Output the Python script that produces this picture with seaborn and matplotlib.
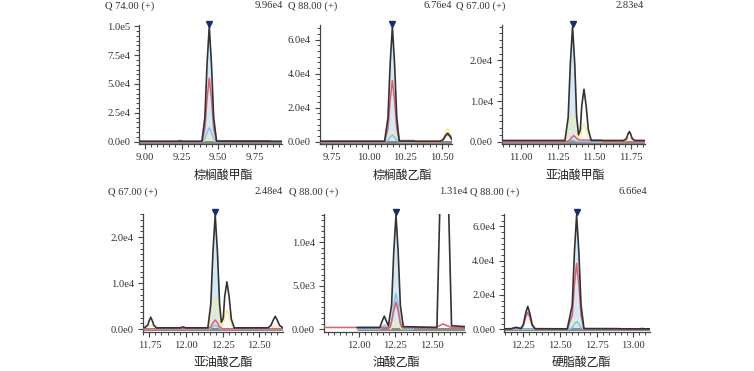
import numpy as np
import pandas as pd
import matplotlib
matplotlib.use("Agg")
import matplotlib.pyplot as plt
import matplotlib.transforms as mtransforms
from matplotlib.ticker import MultipleLocator, FuncFormatter, AutoMinorLocator
import seaborn as sns

# ---------------- data ----------------
compounds = ["棕榈酸甲酯", "棕榈酸乙酯", "亚油酸甲酯", "亚油酸乙酯", "油酸乙酯", "硬脂酸乙酯"]
ions = ["Q 74.00 (+)", "Q 88.00 (+)", "Q 67.00 (+)", "Q 67.00 (+)", "Q 88.00 (+)", "Q 88.00 (+)"]
peak_rt = [9.44, 10.163, 11.352, 12.20, 12.256, 12.614]
peak_max = [99600, 67600, 28300, 24800, 13100, 66600]
max_labels = ["9.96e4", "6.76e4", "2.83e4", "2.48e4", "1.31e4", "6.66e4"]
x_ranges = [(8.961, 9.938), (9.669, 10.570), (10.868, 11.847),
            (11.705, 12.663), (11.764, 12.728), (12.120, 13.115)]
y_major = [25000, 20000, 10000, 10000, 5000, 20000]
y_minor_div = [6, 6, 6, 8, 8, 6]
fill_windows = [(9.39, 9.49), (10.11, 10.21), (11.30, 11.393),
                (12.15, 12.242), (12.204, 12.306), (12.55, 12.664)]

# panel 1 (m/z 74)
p1_black_x = [8.961, 9.39, 9.41, 9.425, 9.44, 9.455, 9.47, 9.49, 9.938]
p1_black_y = [400, 400, 21000, 67700, 99600, 67700, 21000, 400, 400]
p1_red_x = [8.961, 9.22, 9.24, 9.26, 9.39, 9.41, 9.425, 9.44, 9.455, 9.47, 9.49, 9.855]
p1_red_y = [0, 0, 1200, 0, 0, 11500, 37400, 55000, 37400, 11500, 800, 800]
p1_blue_x = [8.961, 9.39, 9.41, 9.425, 9.44, 9.455, 9.47, 9.49, 9.60]
p1_blue_y = [0, 0, 2500, 8200, 12000, 8200, 2500, 0, 0]
p1_yel_x = [9.38, 9.41, 9.425, 9.44, 9.455, 9.47, 9.50]
p1_yel_y = [0, 1000, 3400, 5000, 3400, 1000, 0]

# panel 2 (m/z 88)
p2_black_x = [9.669, 10.11, 10.133, 10.148, 10.163, 10.178, 10.193, 10.21, 10.49, 10.51,
              10.525, 10.54, 10.555, 10.57]
p2_black_y = [300, 300, 14200, 46000, 67600, 46000, 14200, 300, 300, 1300,
              3500, 5000, 3500, 1300]
p2_red_x = [9.669, 10.11, 10.133, 10.148, 10.163, 10.178, 10.193, 10.21, 10.31, 10.32,
            10.49, 10.51, 10.525, 10.54, 10.555, 10.57]
p2_red_y = [0, 0, 7600, 24500, 36000, 24500, 7600, 700, 700, 0,
            0, 1000, 3100, 4500, 3100, 1000]
p2_blue_x = [9.669, 10.11, 10.133, 10.148, 10.163, 10.178, 10.193, 10.21, 10.30]
p2_blue_y = [0, 0, 840, 2700, 4000, 2700, 840, 0, 0]
p2_yel_x = [10.11, 10.133, 10.148, 10.163, 10.178, 10.193, 10.21, 10.49, 10.51,
            10.525, 10.54, 10.555, 10.57]
p2_yel_y = [0, 1260, 4100, 6000, 4100, 1260, 0, 0, 1600, 5300, 7800, 5300, 1600]

# panel 3 (m/z 67)
p3_black_x = [10.868, 11.30, 11.322, 11.337, 11.352, 11.367, 11.38, 11.393, 11.405, 11.415,
              11.43, 11.445, 11.46, 11.48, 11.70, 11.72, 11.73, 11.74, 11.75, 11.76,
              11.78, 11.847]
p3_black_y = [300, 300, 5900, 19200, 28300, 19200, 6200, 1700, 2900, 8800,
              12900, 8800, 2900, 300, 300, 700, 1800, 2500, 1800, 700,
              300, 300]
p3_red_x = [10.868, 11.31, 11.33, 11.345, 11.36, 11.375, 11.39, 11.41, 11.55, 11.56, 11.847]
p3_red_y = [0, 0, 300, 1000, 1500, 1000, 500, 400, 400, 0, 0]
p3_blue_x = [10.868, 11.32, 11.352, 11.385, 11.55, 11.58, 11.62, 11.847]
p3_blue_y = [0, 0, 400, 0, 0, 150, 0, 0]
p3_yel_x = [11.30, 11.322, 11.337, 11.352, 11.367, 11.38, 11.393, 11.405, 11.415,
            11.43, 11.445, 11.46, 11.48, 11.70, 11.72, 11.735, 11.75, 11.765, 11.78, 11.80]
p3_yel_y = [0, 1400, 4600, 6700, 4600, 1400, 400, 1000, 3100,
            4600, 3100, 1000, 0, 0, 200, 700, 1000, 700, 200, 0]

# panel 4 (m/z 67)
p4_black_x = [11.705, 11.72, 11.74, 11.75, 11.76, 11.77, 11.78, 11.80, 11.96, 11.98, 12.00,
              12.15, 12.17, 12.185, 12.20, 12.215, 12.23, 12.242, 12.255, 12.265, 12.28,
              12.295, 12.31, 12.33, 12.56, 12.58, 12.595, 12.61, 12.625, 12.64, 12.663]
p4_black_y = [300, 400, 900, 1900, 2600, 1900, 900, 300, 300, 500, 300,
              300, 5500, 17000, 24800, 17000, 5500, 1500, 2400, 7100, 10300,
              7100, 2200, 300, 300, 800, 1900, 2800, 1900, 800, 300]
p4_red_x = [11.705, 12.15, 12.17, 12.185, 12.20, 12.215, 12.23, 12.25, 12.663]
p4_red_y = [100, 100, 500, 1400, 2000, 1400, 500, 100, 100]
p4_blue_x = [11.705, 12.16, 12.18, 12.20, 12.22, 12.24, 12.663]
p4_blue_y = [0, 0, 500, 900, 500, 0, 0]
p4_yel_x = [11.72, 11.745, 11.76, 11.775, 11.80, 12.15, 12.17, 12.185, 12.20, 12.215, 12.23,
            12.242, 12.255, 12.265, 12.28, 12.295, 12.31, 12.33, 12.58, 12.61, 12.64]
p4_yel_y = [0, 600, 900, 600, 0, 0, 1400, 4600, 6700, 4600, 1400,
            400, 900, 2800, 4100, 2800, 900, 0, 0, 800, 0]

# panel 5 (m/z 88)
p5_black_x = [11.99, 12.146, 12.161, 12.176, 12.191, 12.204, 12.226, 12.241, 12.256, 12.271,
              12.286, 12.306, 12.536, 12.556, 12.571, 12.586, 12.601, 12.616, 12.636, 12.728]
p5_black_y = [200, 200, 900, 1500, 900, 400, 2750, 8900, 13100, 8900,
              2750, 300, 200, 14000, 45000, 66600, 45000, 14000, 400, 300]
p5_red_x = [11.764, 12.216, 12.226, 12.241, 12.256, 12.271, 12.286, 12.296, 12.526, 12.576,
            12.636, 12.728]
p5_red_y = [200, 200, 850, 2100, 3100, 2100, 650, 200, 200, 600, 200, 200]
p5_blue_x = [11.99, 12.146, 12.176, 12.201, 12.226, 12.241, 12.256, 12.271, 12.286, 12.306,
             12.376]
p5_blue_y = [0, 0, 500, 200, 860, 2800, 4100, 2800, 860, 0, 0]
p5_yel_x = [12.216, 12.241, 12.256, 12.271, 12.296]
p5_yel_y = [0, 500, 800, 500, 0]

# panel 6 (m/z 88)
p6_black_x = [12.12, 12.17, 12.19, 12.20, 12.215, 12.235, 12.25, 12.265, 12.28, 12.295,
              12.31, 12.33, 12.55, 12.584, 12.599, 12.614, 12.629, 12.644, 12.664, 13.115]
p6_black_y = [200, 300, 900, 1100, 800, 400, 2800, 9000, 13300, 9000,
              2800, 300, 200, 14000, 45300, 66600, 45300, 14000, 300, 200]
p6_red_x = [12.12, 12.17, 12.20, 12.23, 12.25, 12.265, 12.28, 12.295, 12.31, 12.33,
            12.55, 12.584, 12.599, 12.614, 12.629, 12.644, 12.664, 12.90, 12.91, 13.115]
p6_red_y = [100, 300, 1000, 400, 2100, 6700, 9800, 6700, 2100, 200,
            100, 8100, 26100, 38400, 26100, 8100, 400, 400, 0, 0]
p6_blue_x = [12.12, 12.56, 12.584, 12.599, 12.614, 12.629, 12.644, 12.67, 13.04, 13.06,
             13.08, 13.115]
p6_blue_y = [0, 0, 900, 3100, 4500, 3100, 900, 0, 0, 800, 0, 0]
p6_yel_x = [12.56, 12.584, 12.599, 12.614, 12.629, 12.644, 12.67]
p6_yel_y = [0, 1200, 3700, 5500, 3700, 1200, 0]

traces = [
    (p1_black_x, p1_black_y, p1_red_x, p1_red_y, p1_blue_x, p1_blue_y, p1_yel_x, p1_yel_y),
    (p2_black_x, p2_black_y, p2_red_x, p2_red_y, p2_blue_x, p2_blue_y, p2_yel_x, p2_yel_y),
    (p3_black_x, p3_black_y, p3_red_x, p3_red_y, p3_blue_x, p3_blue_y, p3_yel_x, p3_yel_y),
    (p4_black_x, p4_black_y, p4_red_x, p4_red_y, p4_blue_x, p4_blue_y, p4_yel_x, p4_yel_y),
    (p5_black_x, p5_black_y, p5_red_x, p5_red_y, p5_blue_x, p5_blue_y, p5_yel_x, p5_yel_y),
    (p6_black_x, p6_black_y, p6_red_x, p6_red_y, p6_blue_x, p6_blue_y, p6_yel_x, p6_yel_y),
]

# ---------------- layout (pixels) ----------------
W, H = 754, 371
axes_px = [(139.3, 282, 25.5, 144), (320, 452, 25.5, 144), (501.7, 645, 25.5, 144),
           (142.7, 283, 214, 331.5), (324, 465, 214, 331.5), (504.3, 650, 214, 331.5)]
header_left_px = [105, 288, 456.5, 108, 289, 470]
header_right_px = [283, 452.5, 643.5, 283, 468, 647]
header_y_px = [6, 6, 6, 192, 192, 192]
label_x_px = [223, 402, 575, 223, 396, 581]
label_y_px = [175, 175, 175, 362, 362, 362]

C_BLACK = "#333333"
C_RED = "#e35d6a"
C_BLUE = "#84c4ec"
C_YEL = "#f4ee9c"
C_FILL = "#d3e9f5"
C_MARK = "#1b2a6b"

sns.set_theme(style="ticks")
plt.rcParams['font.family'] = ['Liberation Serif', 'DejaVu Serif']

fig = plt.figure(figsize=(W / 100, H / 100), dpi=100)


def sci_fmt(v, pos):
    if v == 0:
        return "0.0e0"
    e = int(np.floor(np.log10(abs(v)) + 1e-9))
    m = v / 10 ** e
    return f"{m:.1f}e{e}"


for i in range(6):
    l, r, t, b = axes_px[i]
    ax = fig.add_axes([l / W, 1 - b / H, (r - l) / W, (b - t) / H])
    bx, by, rx, ry, ux, uy, yx, yy = traces[i]
    bx_a = np.array(bx)
    by_a = np.array(by)
    f0, f1 = fill_windows[i]
    ax.fill_between(bx_a, by_a, 0, where=(bx_a >= f0 - 1e-9) & (bx_a <= f1 + 1e-9),
                    color=C_FILL, lw=0, zorder=1)
    ax.hlines(0, bx[0], bx[-1], color="#8a8a8a", lw=2.2, zorder=2)
    sns.lineplot(x=yx, y=yy, ax=ax, color=C_YEL, lw=1.1, estimator=None, sort=False, zorder=3)
    sns.lineplot(x=ux, y=uy, ax=ax, color=C_BLUE, lw=1.1, estimator=None, sort=False, zorder=4)
    sns.lineplot(x=rx, y=ry, ax=ax, color=C_RED, lw=1.1, estimator=None, sort=False, zorder=5)
    sns.lineplot(x=bx, y=by, ax=ax, color=C_BLACK, lw=1.2, estimator=None, sort=False, zorder=6)
    off = mtransforms.offset_copy(ax.transData, fig=fig, x=0, y=3, units='dots')
    ax.plot([peak_rt[i]], [peak_max[i]], marker='v', color=C_MARK, ms=5, transform=off,
            clip_on=False, zorder=8, linestyle='none')

    ax.set_xlim(*x_ranges[i])
    ax.set_ylim(-0.02 * peak_max[i], 1.01 * peak_max[i])
    ax.xaxis.set_major_locator(MultipleLocator(0.25))
    ax.xaxis.set_minor_locator(AutoMinorLocator(6))
    ax.xaxis.set_major_formatter(FuncFormatter(lambda v, p: f"{v:.2f}"))
    ax.yaxis.set_major_locator(MultipleLocator(y_major[i]))
    ax.yaxis.set_minor_locator(AutoMinorLocator(y_minor_div[i]))
    ax.yaxis.set_major_formatter(FuncFormatter(sci_fmt))
    ax.set_xlabel("")
    ax.set_ylabel("")
    sns.despine(ax=ax)
    for s in ("left", "bottom"):
        ax.spines[s].set_color("#444444")
        ax.spines[s].set_linewidth(0.9)
    ax.tick_params(which="major", direction="out", length=3.5, width=0.8, colors="#444444",
                   labelsize=7.6, labelcolor="#333333", pad=3)
    ax.tick_params(which="minor", direction="out", length=2, width=0.7, colors="#444444")
    ax.set_facecolor("none")

    fig.text(header_left_px[i] / W, 1 - header_y_px[i] / H, ions[i], fontsize=7.6,
             color="#333333", ha="left", va="center")
    fig.text(header_right_px[i] / W, 1 - header_y_px[i] / H, max_labels[i], fontsize=7.6,
             color="#333333", ha="right", va="center")
    fig.text(label_x_px[i] / W, 1 - label_y_px[i] / H, compounds[i], fontsize=8.6,
             color="#222222", ha="center", va="center",
             family=["Noto Sans CJK SC", "DejaVu Sans"])

fig.savefig("out.png", dpi=100)
